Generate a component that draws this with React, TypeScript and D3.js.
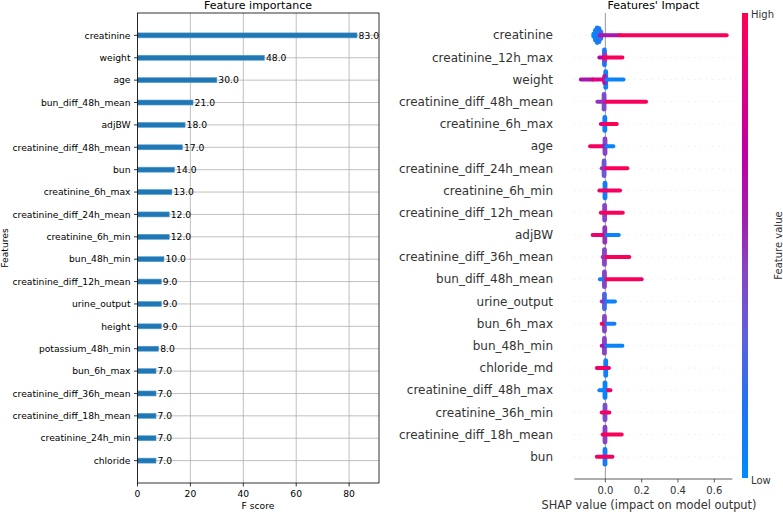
import React from "react";
import * as d3 from "d3";

// ---------- Left chart: XGBoost feature importance ----------
const importanceFeatures = [
  "creatinine", "weight", "age", "bun_diff_48h_mean", "adjBW",
  "creatinine_diff_48h_mean", "bun", "creatinine_6h_max", "creatinine_diff_24h_mean",
  "creatinine_6h_min", "bun_48h_min", "creatinine_diff_12h_mean", "urine_output",
  "height", "potassium_48h_min", "bun_6h_max", "creatinine_diff_36h_mean",
  "creatinine_diff_18h_mean", "creatinine_24h_min", "chloride",
];
const importanceScores = [83, 48, 30, 21, 18, 17, 14, 13, 12, 12, 10, 9, 9, 9, 8, 7, 7, 7, 7, 7];
const importanceTicks = [0, 20, 40, 60, 80];

// ---------- Right chart: SHAP summary ----------
const shapFeatures = [
  "creatinine", "creatinine_12h_max", "weight", "creatinine_diff_48h_mean",
  "creatinine_6h_max", "age", "creatinine_diff_24h_mean", "creatinine_6h_min",
  "creatinine_diff_12h_mean", "adjBW", "creatinine_diff_36h_mean", "bun_diff_48h_mean",
  "urine_output", "bun_6h_max", "bun_48h_min", "chloride_md",
  "creatinine_diff_48h_max", "creatinine_36h_min", "creatinine_diff_18h_mean", "bun",
];
// piles of points near a SHAP value: [shap value, pile height (rows), feature value 0..1]
const shapPiles: number[][][] = [
  [[-0.064, 0.16, 0.05], [-0.055, 0.32, 0.05], [-0.045, 0.44, 0.08], [-0.035, 0.4, 0.12], [-0.025, 0.26, 0.2]],
  [[-0.005, 0.44, 0.1], [-0.003, 0.25, 0.45]],
  [[0.002, 0.46, 0.08], [-0.004, 0.25, 0.6]],
  [[-0.007, 0.44, 0.4]],
  [[-0.003, 0.4, 0.08]],
  [[-0.002, 0.44, 0.45]],
  [[-0.007, 0.44, 0.35]],
  [[-0.002, 0.44, 0.1]],
  [[-0.004, 0.44, 0.45]],
  [[-0.003, 0.44, 0.5]],
  [[-0.005, 0.44, 0.45]],
  [[-0.005, 0.44, 0.45]],
  [[-0.005, 0.44, 0.25]],
  [[-0.005, 0.44, 0.45]],
  [[-0.005, 0.44, 0.45]],
  [[0.002, 0.44, 0.08]],
  [[-0.002, 0.44, 0.05]],
  [[-0.002, 0.44, 0.4]],
  [[-0.002, 0.44, 0.45]],
  [[-0.002, 0.44, 0.1]],
];
// runs of points: [from shap value, to shap value, feature value 0..1]
const shapRuns: number[][][] = [
  [[-0.03, 0.08, 0.6], [0.08, 0.668, 0.97]],
  [[-0.033, -0.005, 0.7], [-0.005, 0.094, 0.98]],
  [[-0.135, -0.07, 0.6], [-0.07, -0.01, 0.85], [0.005, 0.1, 0.05]],
  [[-0.044, -0.005, 0.5], [0.005, 0.224, 0.98]],
  [[-0.025, -0.003, 0.85], [0.0, 0.063, 1.0]],
  [[-0.084, -0.01, 0.95], [-0.01, 0.005, 0.6], [0.005, 0.044, 0.05]],
  [[-0.02, 0.0, 0.5], [0.005, 0.121, 0.98]],
  [[-0.033, 0.081, 0.95]],
  [[-0.025, 0.096, 0.97]],
  [[-0.07, -0.01, 0.9], [0.005, 0.074, 0.05]],
  [[-0.015, 0.0, 0.5], [0.005, 0.132, 0.98]],
  [[-0.03, -0.005, 0.1], [0.005, 0.19, 0.98], [0.198, 0.2, 0.9]],
  [[-0.02, 0.0, 0.5], [0.005, 0.053, 0.05]],
  [[-0.02, -0.003, 0.95], [0.005, 0.05, 0.1]],
  [[-0.02, 0.0, 0.6], [0.005, 0.094, 0.05]],
  [[-0.047, -0.003, 0.95], [0.003, 0.02, 0.9]],
  [[-0.033, 0.015, 0.05], [0.015, 0.028, 0.95]],
  [[-0.02, 0.022, 0.95]],
  [[-0.015, 0.09, 0.98]],
  [[-0.047, 0.039, 0.95]],
];
const shapTicks = [0.0, 0.2, 0.4, 0.6];

const cmapStops = [0, 0.15, 0.3, 0.45, 0.55, 0.7, 0.85, 1];
const cmapColors = ["#008bfb", "#1f74f2", "#5c62dc", "#8844c4", "#a020b0", "#bd00a4", "#e00080", "#ff0052"];

const FONT = "DejaVu Sans, sans-serif";

export default function App() {
  const W = 783, H = 512;
  const cmap = d3.scaleLinear<string>().domain(cmapStops).range(cmapColors).interpolate(d3.interpolateRgb);

  // left
  const lx = d3.scaleLinear().domain([0, 91.3]).range([137.5, 379]);
  const ly = d3.scaleLinear().domain([-1, 20]).range([13, 483]);
  const lTop = ly(-1), lBot = ly(20);

  // right
  const rx = d3.scaleLinear().domain([-0.171, 0.699]).range([574.3, 732.3]);
  const ry = d3.scaleLinear().domain([-1, 20]).range([479, 13]);
  const rowY = (i: number) => ry(shapFeatures.length - 1 - i);
  const rowPx = Math.abs(ry(0) - ry(1));

  const cbX = 742, cbW = 6, cbTop = 13, cbBot = 478;

  return (
    <svg width={W} height={H} style={{ position: "absolute", left: 0, top: 0, background: "#fff" }} fontFamily={FONT}>
      <defs>
        <linearGradient id="cb" x1="0" y1="1" x2="0" y2="0">
          {cmapStops.map((s, i) => (
            <stop key={i} offset={s} stopColor={cmapColors[i]} />
          ))}
        </linearGradient>
      </defs>

      {/* ===== Left: Feature importance ===== */}
      <text x={258} y={8.5} fontSize={11} textAnchor="middle" fill="#000">Feature importance</text>
      {importanceTicks.map((t) => (
        <line key={"vg" + t} x1={lx(t)} x2={lx(t)} y1={lTop} y2={lBot} stroke="#b0b0b0" strokeWidth={0.8} />
      ))}
      {importanceFeatures.map((f, i) => (
        <line key={"hg" + f} x1={lx(0)} x2={379} y1={ly(i)} y2={ly(i)} stroke="#b0b0b0" strokeWidth={0.8} />
      ))}
      {importanceFeatures.map((f, i) => (
        <g key={"bar" + f}>
          <rect x={lx(0)} y={ly(i) - 2.5} width={lx(importanceScores[i]) - lx(0)} height={5}
            fill="#1f77b4" stroke="#5b9fd3" strokeWidth={0.6} />
          <text x={lx(importanceScores[i]) + 1.5} y={ly(i)} dy="0.35em" fontSize={9.2} fill="#000">
            {importanceScores[i].toFixed(1)}
          </text>
          <line x1={lx(0) - 3.5} x2={lx(0)} y1={ly(i)} y2={ly(i)} stroke="#000" strokeWidth={0.8} />
          <text x={130.5} y={ly(i)} dy="0.35em" fontSize={9.2} textAnchor="end" fill="#000">{f}</text>
        </g>
      ))}
      <rect x={lx(0)} y={lTop} width={379 - lx(0)} height={lBot - lTop} fill="none" stroke="#000" strokeWidth={0.8} />
      {importanceTicks.map((t) => (
        <g key={"xt" + t}>
          <line x1={lx(t)} x2={lx(t)} y1={lBot} y2={lBot + 3.5} stroke="#000" strokeWidth={0.8} />
          <text x={lx(t)} y={497} fontSize={9.2} textAnchor="middle" fill="#000">{t}</text>
        </g>
      ))}
      <text x={258} y={509} fontSize={9.2} textAnchor="middle" fill="#000">F score</text>
      <text transform={`translate(8,${(lTop + lBot) / 2}) rotate(-90)`} fontSize={9.2} textAnchor="middle" fill="#000">Features</text>

      {/* ===== Right: SHAP summary ===== */}
      <text x={653.5} y={8.5} fontSize={11} textAnchor="middle" fill="#000">Features' Impact</text>
      {shapFeatures.map((f, i) => (
        <line key={"dl" + f} x1={574.3} x2={732.3} y1={rowY(i)} y2={rowY(i)} stroke="#cccccc" strokeWidth={0.5} strokeDasharray="1,5" />
      ))}
      <line x1={rx(0)} x2={rx(0)} y1={13} y2={479} stroke="#999999" strokeWidth={1} />
      {shapFeatures.map((f, i) => (
        <g key={"sw" + f}>
          {shapPiles[i].map((p, j) => (
            <line key={"p" + j} x1={rx(p[0])} x2={rx(p[0])}
              y1={rowY(i) - p[1] * rowPx + 2.4} y2={rowY(i) + p[1] * rowPx - 2.4}
              stroke={cmap(p[2])} strokeWidth={4.8} strokeLinecap="round" />
          ))}
          {shapRuns[i].map((r, j) => (
            <line key={"r" + j} x1={rx(r[0])} x2={rx(r[1])} y1={rowY(i)} y2={rowY(i)}
              stroke={cmap(r[2])} strokeWidth={4} strokeLinecap="round" />
          ))}
          <text x={553} y={rowY(i)} dy="0.35em" fontSize={12} textAnchor="end" fill="#333">{f}</text>
        </g>
      ))}
      <line x1={574.3} x2={732.3} y1={479} y2={479} stroke="#333" strokeWidth={0.8} />
      {shapTicks.map((t) => (
        <g key={"st" + t}>
          <line x1={rx(t)} x2={rx(t)} y1={479} y2={482.5} stroke="#333" strokeWidth={0.8} />
          <text x={rx(t)} y={493.5} fontSize={10} textAnchor="middle" fill="#333">{t.toFixed(1)}</text>
        </g>
      ))}
      <text x={649} y={508.5} fontSize={11.4} textAnchor="middle" fill="#333">SHAP value (impact on model output)</text>

      {/* colorbar */}
      <rect x={cbX} y={cbTop} width={cbW} height={cbBot - cbTop} fill="url(#cb)" />
      <text x={751} y={18} fontSize={10} fill="#333">High</text>
      <text x={751} y={484} fontSize={10} fill="#333">Low</text>
      <text transform={`translate(781.5,${(cbTop + cbBot) / 2}) rotate(-90)`} fontSize={10} textAnchor="middle" fill="#333">Feature value</text>
    </svg>
  );
}
